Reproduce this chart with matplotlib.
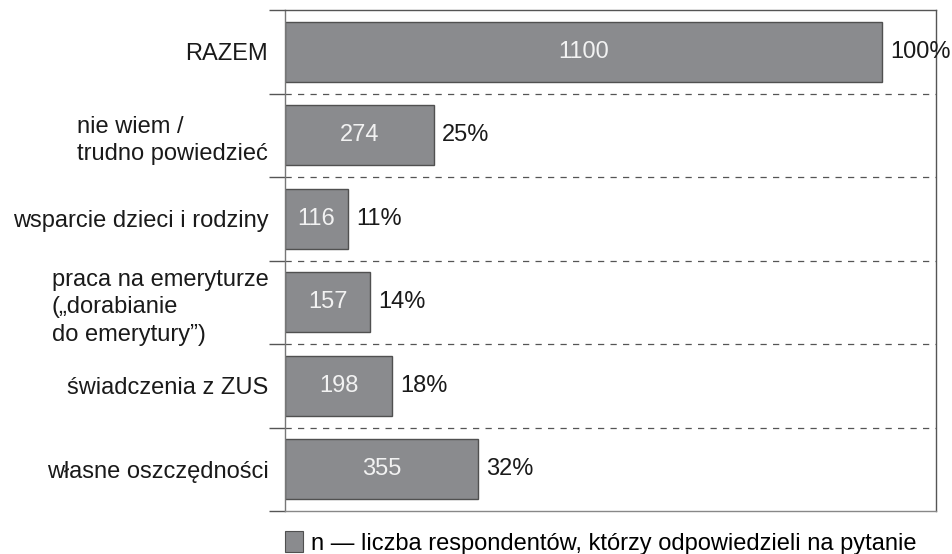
import numpy as np
import matplotlib.pyplot as plt
import matplotlib.patches as mpatches

plt.rcParams["font.family"] = ["Liberation Sans", "DejaVu Sans"]

# -- data ---------------------------------------------------------------------
categories = ["RAZEM", "nie wiem /\ntrudno powiedzieć", "wsparcie dzieci i rodziny",
              "praca na emeryturze\n(„dorabianie\ndo emerytury”)",
              "świadczenia z ZUS", "własne oszczędności"]
counts = [1100, 274, 116, 157, 198, 355]
percents = [100, 25, 11, 14, 18, 32]
legend_label = "n — liczba respondentów, którzy odpowiedzieli na pytanie"

bar_color = "#8a8b8e"
edge_color = "#505050"
line_color = "#555555"
fs = 17

# -- figure -------------------------------------------------------------------
fig = plt.figure(figsize=(9.52, 5.54), dpi=100)
ax = fig.add_axes([285 / 952, 1 - 511 / 554, 651 / 952, 501 / 554])

y = np.arange(len(categories))
ax.barh(y, counts, height=0.72, color=bar_color, edgecolor=edge_color,
        linewidth=1.0)

for yi, n, p in zip(y, counts, percents):
    ax.text(n / 2, yi, str(n), ha="center", va="center", fontsize=fs,
            color="#f2f2f2")
    ax.annotate(f"{p}%", (n, yi), xytext=(6, 0), textcoords="offset points",
                ha="left", va="center", fontsize=fs, color="#1a1a1a")

ax.set_xlim(0, 1200)
ax.set_ylim(len(categories) - 0.5, -0.5)
ax.set_xticks([])

ax.set_yticks(y)
ax.set_yticklabels(categories, fontsize=fs, color="#1a1a1a",
                   multialignment="left", linespacing=1.32)
ax.tick_params(axis="y", which="major", length=0, pad=12)
ax.set_yticks(np.arange(-0.5, len(categories)), minor=True)
ax.tick_params(axis="y", which="minor", length=11.5, width=1.0,
               color=line_color)

# dashed row separators
for b in np.arange(0.5, len(categories) - 1):
    ax.axhline(b, color=line_color, linewidth=0.9, linestyle=(0, (5, 5)))

for side in ["left", "right", "top", "bottom"]:
    ax.spines[side].set_color(line_color)
    ax.spines[side].set_linewidth(1.0)
ax.spines["left"].set_color("#777777")
ax.spines["bottom"].set_color("#888888")

# legend
handle = mpatches.Patch(facecolor=bar_color, edgecolor=edge_color, linewidth=0.8)
fig.legend(handles=[handle], labels=[legend_label], loc="lower left",
           bbox_to_anchor=(285 / 952, -1 / 554), frameon=False, fontsize=fs,
           handlelength=0.75, handleheight=1.0, handletextpad=0.35,
           borderpad=0, borderaxespad=0)

fig.savefig("out.png", dpi=100)
plt.close(fig)
